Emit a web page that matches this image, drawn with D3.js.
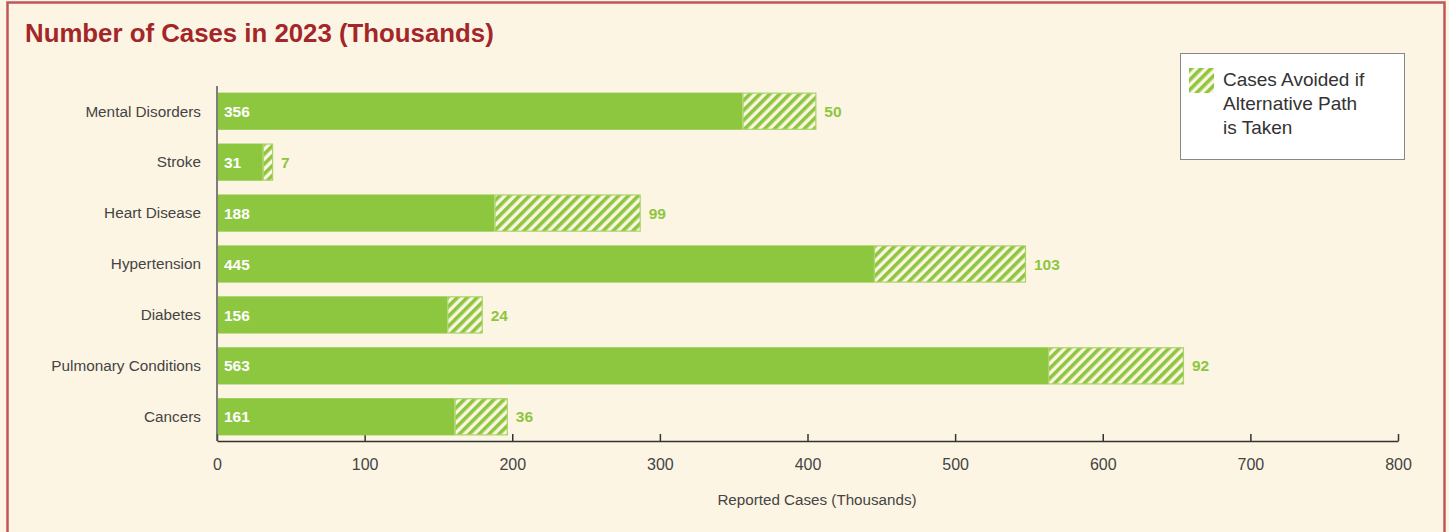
<!DOCTYPE html>
<html>
<head>
<meta charset="utf-8">
<script src="https://cdn.jsdelivr.net/npm/d3@7"></script>
<style>
  body { margin: 0; background: #fdf5e3; }
  svg { display: block; font-family: "Liberation Sans", Arial, sans-serif; }
</style>
</head>
<body>
<div id="chart"></div>
<script>
// chart data
const categories = ["Mental Disorders", "Stroke", "Heart Disease", "Hypertension", "Diabetes", "Pulmonary Conditions", "Cancers"];
const reported = [356, 31, 188, 445, 156, 563, 161];
const avoided = [50, 7, 99, 103, 24, 92, 36];
const xTicks = [0, 100, 200, 300, 400, 500, 600, 700, 800];
const legendLines = ["Cases Avoided if", "Alternative Path", "is Taken"];

const width = 1449, height = 532;
const green = "#8dc63f";
const cream = "#fdf5e3";

const svg = d3.select("#chart").append("svg")
    .attr("width", width)
    .attr("height", height);

// hatch pattern
const defs = svg.append("defs");
const pat = defs.append("pattern")
    .attr("id", "hatch")
    .attr("patternUnits", "userSpaceOnUse")
    .attr("width", 7).attr("height", 7)
    .attr("patternTransform", "rotate(45)");
pat.append("rect").attr("width", 7).attr("height", 7).attr("fill", cream);
pat.append("rect").attr("width", 3.6).attr("height", 7).attr("fill", green);

// frame
svg.append("rect")
    .attr("x", 0).attr("y", 0).attr("width", width).attr("height", height)
    .attr("fill", cream);
svg.append("path")
    .attr("d", "M7.5," + height + " L7.5,2.5 L1444.5,2.5 L1444.5," + height)
    .attr("fill", "none")
    .attr("stroke", "#c0555c")
    .attr("stroke-width", 2.5);

svg.append("text")
    .attr("x", 25).attr("y", 42)
    .attr("fill", "#a3262a")
    .style("font-size", "25.8px")
    .style("font-weight", "bold")
    .text("Number of Cases in 2023 (Thousands)");

const x = d3.scaleLinear().domain([0, 800]).range([217, 1398]);
const y = d3.scaleBand().domain(categories).range([86, 442]).paddingInner(0.27).paddingOuter(0.13);

// x axis
const xAxis = svg.append("g")
    .attr("transform", "translate(0,441)")
    .call(d3.axisBottom(x).tickValues(xTicks).tickSizeInner(-7).tickSizeOuter(0).tickPadding(15));
xAxis.select(".domain").attr("stroke", "#333").attr("stroke-width", 1.5);
xAxis.selectAll(".tick line").attr("stroke", "#333").attr("stroke-width", 1.5);
xAxis.selectAll("text").attr("fill", "#444").style("font-size", "16px").attr("dy", "0.85em");

// y axis line
svg.append("line")
    .attr("x1", 217).attr("x2", 217).attr("y1", 86).attr("y2", 441)
    .attr("stroke", "#555").attr("stroke-width", 1.5);

svg.append("text")
    .attr("x", 817).attr("y", 505)
    .attr("text-anchor", "middle")
    .attr("fill", "#444")
    .style("font-size", "15.2px")
    .text("Reported Cases (Thousands)");

// category labels
svg.selectAll(".cat").data(categories).enter().append("text")
    .attr("class", "cat")
    .attr("x", 201)
    .attr("y", d => y(d) + y.bandwidth() / 2)
    .attr("dy", "0.35em")
    .attr("text-anchor", "end")
    .attr("fill", "#444")
    .style("font-size", "15.3px")
    .text(d => d);

const rows = categories.map((c, i) => ({ cat: c, rep: reported[i], av: avoided[i] }));

// solid bars
svg.selectAll(".rep").data(rows).enter().append("rect")
    .attr("class", "rep")
    .attr("x", x(0) + 1)
    .attr("y", d => y(d.cat))
    .attr("width", d => x(d.rep) - x(0) - 1)
    .attr("height", y.bandwidth())
    .attr("fill", green);

// hatched bars
svg.selectAll(".av").data(rows).enter().append("rect")
    .attr("class", "av")
    .attr("x", d => x(d.rep) + 0.5)
    .attr("y", d => y(d.cat) + 0.5)
    .attr("width", d => x(d.rep + d.av) - x(d.rep) - 1)
    .attr("height", y.bandwidth() - 1)
    .attr("fill", "url(#hatch)")
    .attr("stroke", "#a9d46a")
    .attr("stroke-width", 1.2);

// inside labels
svg.selectAll(".repl").data(rows).enter().append("text")
    .attr("class", "repl")
    .attr("x", 224)
    .attr("y", d => y(d.cat) + y.bandwidth() / 2)
    .attr("dy", "0.36em")
    .attr("fill", "#fff")
    .style("font-size", "15.5px")
    .style("font-weight", "bold")
    .text(d => d.rep);

// outside labels
svg.selectAll(".avl").data(rows).enter().append("text")
    .attr("class", "avl")
    .attr("x", d => x(d.rep + d.av) + 8)
    .attr("y", d => y(d.cat) + y.bandwidth() / 2)
    .attr("dy", "0.36em")
    .attr("fill", green)
    .style("font-size", "15.5px")
    .style("font-weight", "bold")
    .text(d => d.av);

// legend
const lg = svg.append("g");
lg.append("rect")
    .attr("x", 1180.5).attr("y", 53.5).attr("width", 224).attr("height", 106)
    .attr("fill", "#fff").attr("stroke", "#888").attr("stroke-width", 1);
lg.append("rect")
    .attr("x", 1189).attr("y", 68).attr("width", 25).attr("height", 25)
    .attr("fill", "url(#hatch)");
lg.selectAll(".lt").data(legendLines).enter().append("text")
    .attr("x", 1223)
    .attr("y", (d, i) => 86 + i * 24)
    .attr("fill", "#333")
    .style("font-size", "19px")
    .text(d => d);
</script>
</body>
</html>
